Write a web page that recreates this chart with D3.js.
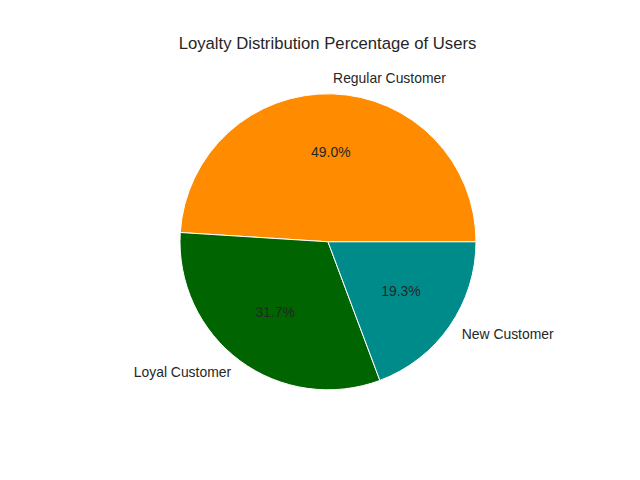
<!DOCTYPE html>
<html>
<head>
<meta charset="utf-8">
<script src="https://cdn.jsdelivr.net/npm/d3@7"></script>
<style>
  body { margin: 0; background: #fff; }
  svg { display: block; font-family: "Liberation Sans", Arial, sans-serif; }
</style>
</head>
<body>
<svg id="chart" width="640" height="480"></svg>
<script>
const categories = ['Regular Customer', 'Loyal Customer', 'New Customer'];
const shares = [49.0, 31.7, 19.3];
const colors = ['#FF8C00', '#006400', '#008B8B'];

const width = 640;
const height = 480;
const cx = 328;
const cy = 241.8;
const radius = 148;
const textColor = '#262626';

const svg = d3.select('#chart');

svg.append('text')
  .attr('x', 327.5)
  .attr('y', 43.2)
  .attr('text-anchor', 'middle')
  .attr('dominant-baseline', 'central')
  .style('font-size', '16.7px')
  .style('fill', textColor)
  .text('Loyalty Distribution Percentage of Users');

const data = categories.map((name, i) => ({ name, value: shares[i], color: colors[i] }));

// matplotlib style: start at 3 o'clock, go counterclockwise
const pie = d3.pie()
  .sort(null)
  .value(d => d.value)
  .startAngle(Math.PI / 2)
  .endAngle(Math.PI / 2 - 2 * Math.PI);

const arcs = pie(data);
const arc = d3.arc().innerRadius(0).outerRadius(radius);

const g = svg.append('g').attr('transform', `translate(${cx},${cy})`);

g.selectAll('path')
  .data(arcs)
  .enter()
  .append('path')
  .attr('d', arc)
  .attr('fill', d => d.data.color)
  .attr('stroke', '#fff')
  .attr('stroke-width', 1)
  .attr('stroke-linejoin', 'round');

function midPoint(d, r) {
  const a = (d.startAngle + d.endAngle) / 2;
  return [r * Math.sin(a), -r * Math.cos(a)];
}

g.selectAll('text.label')
  .data(arcs)
  .enter()
  .append('text')
  .attr('class', 'label')
  .attr('x', d => midPoint(d, radius * 1.1)[0])
  .attr('y', d => midPoint(d, radius * 1.1)[1] - 1)
  .attr('text-anchor', d => midPoint(d, 1)[0] >= 0 ? 'start' : 'end')
  .attr('dominant-baseline', 'central')
  .style('font-size', '13.9px')
  .style('fill', textColor)
  .text(d => d.data.name);

g.selectAll('text.pct')
  .data(arcs)
  .enter()
  .append('text')
  .attr('class', 'pct')
  .attr('x', d => midPoint(d, radius * 0.6)[0])
  .attr('y', d => midPoint(d, radius * 0.6)[1] - 1)
  .attr('text-anchor', 'middle')
  .attr('dominant-baseline', 'central')
  .style('font-size', '13.9px')
  .style('fill', textColor)
  .text(d => d.data.value.toFixed(1) + '%');
</script>
</body>
</html>
